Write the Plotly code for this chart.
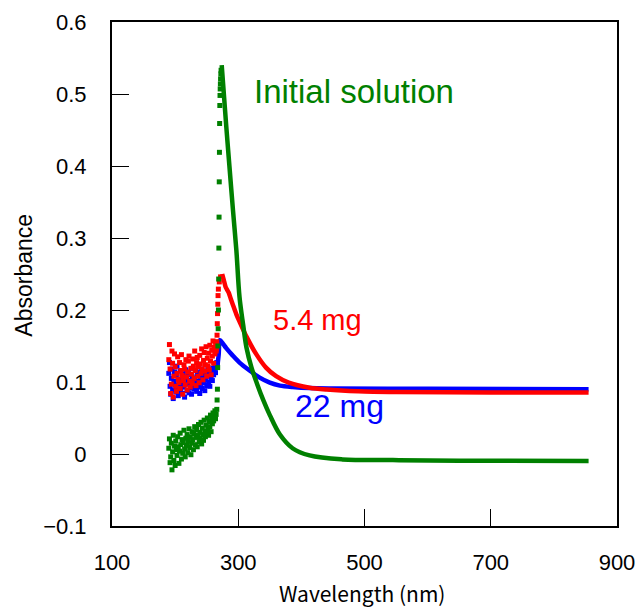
import plotly.graph_objects as go

# ---- scan grid of the noisy deep-UV region (nm) ----
noise_nm_red = [190, 191, 192, 193, 194, 195, 196, 197, 198, 199, 200, 201, 202, 203, 204, 205,
                206, 207, 208, 209, 210, 211, 212, 213, 214, 215, 216, 217, 218, 219, 220, 221,
                222, 223, 224, 225, 226, 227, 228, 229, 230, 231, 232, 233, 234, 235, 236, 237,
                238, 239, 240, 241, 242, 243, 244, 245, 246, 247, 248, 249, 250, 251, 252, 253,
                254, 255, 256, 257, 258, 259, 260, 261, 262, 263, 264, 265, 266]
noise_nm_blue = noise_nm_red + [267]
noise_nm_green = noise_nm_red[:-1]

# ---- 5.4 mg sample ----
red_noise_abs = [0.131, 0.152, 0.118, 0.084, 0.097, 0.143, 0.126, 0.079, 0.108, 0.139,
                 0.121, 0.094, 0.087, 0.112, 0.135, 0.104, 0.099, 0.127, 0.091, 0.116,
                 0.138, 0.109, 0.083, 0.102, 0.124, 0.118, 0.096, 0.131, 0.107, 0.089,
                 0.114, 0.129, 0.136, 0.101, 0.093, 0.119, 0.111, 0.098, 0.132, 0.122,
                 0.105, 0.143, 0.116, 0.095, 0.127, 0.134, 0.108, 0.121, 0.099, 0.137,
                 0.125, 0.112, 0.146, 0.118, 0.103, 0.130, 0.141, 0.115, 0.124, 0.149,
                 0.108, 0.133, 0.122, 0.140, 0.117, 0.151, 0.129, 0.110, 0.144, 0.136,
                 0.157, 0.126, 0.148, 0.139, 0.155, 0.143, 0.150]
red_rise_nm = [265.5, 266.0, 266.4, 266.8, 267.2, 267.6, 268.0, 268.5, 270.0, 272.0]
red_rise_abs = [0.146, 0.156, 0.165, 0.181, 0.195, 0.208, 0.220, 0.229, 0.239, 0.246]
red_tail_nm = [274.5, 277, 280, 283, 285, 288, 291.6, 297, 302, 313, 329, 344, 360, 380, 413,
               440, 490, 550, 700, 855]
red_tail_abs = [0.250, 0.242, 0.232, 0.227, 0.224, 0.216, 0.207, 0.194, 0.184, 0.163, 0.138, 0.120,
                0.108, 0.099, 0.092, 0.0895, 0.087, 0.086, 0.0855, 0.0855]

# ---- 22 mg sample ----
blue_noise_abs = [0.112, 0.127, 0.094, 0.083, 0.105, 0.118, 0.089, 0.077, 0.101, 0.114,
                  0.096, 0.086, 0.109, 0.122, 0.091, 0.081, 0.103, 0.095, 0.115, 0.087,
                  0.099, 0.108, 0.084, 0.111, 0.093, 0.079, 0.106, 0.117, 0.097, 0.088,
                  0.102, 0.113, 0.085, 0.098, 0.110, 0.092, 0.083, 0.107, 0.119, 0.100,
                  0.090, 0.104, 0.096, 0.116, 0.087, 0.109, 0.101, 0.093, 0.113, 0.084,
                  0.105, 0.098, 0.118, 0.091, 0.107, 0.099, 0.112, 0.088, 0.103, 0.115,
                  0.095, 0.108, 0.120, 0.100, 0.111, 0.094, 0.117, 0.106, 0.114, 0.102,
                  0.119, 0.110, 0.116, 0.124, 0.113, 0.121, 0.127, 0.123]
blue_tail_nm = [267, 269, 271, 276, 281, 291, 302, 318, 334, 350, 366, 386, 413, 450, 600, 855]
blue_tail_abs = [0.122, 0.138, 0.158, 0.153, 0.147, 0.137, 0.127, 0.116, 0.106, 0.099, 0.095, 0.093,
                 0.0915, 0.091, 0.0905, 0.090]

# ---- initial solution ----
green_noise_abs = [0.008, 0.021, -0.012, -0.004, 0.015, -0.022, 0.003, 0.026, -0.009, 0.011,
                   -0.016, 0.018, 0.006, -0.002, 0.024, 0.010, -0.013, 0.004, 0.029, 0.013,
                   -0.007, 0.020, 0.001, 0.016, 0.033, 0.007, -0.004, 0.022, 0.012, 0.027,
                   0.002, 0.018, 0.035, 0.009, 0.024, -0.001, 0.015, 0.031, 0.020, 0.006,
                   0.028, 0.038, 0.013, 0.023, 0.034, 0.010, 0.026, 0.041, 0.017, 0.030,
                   0.022, 0.044, 0.014, 0.036, 0.027, 0.019, 0.047, 0.032, 0.024, 0.040,
                   0.029, 0.050, 0.035, 0.026, 0.045, 0.038, 0.054, 0.031, 0.048, 0.042,
                   0.057, 0.046, 0.052, 0.060, 0.049, 0.055]
green_rise_nm = [266.0, 266.5, 267.0, 267.4, 267.8, 268.2, 268.6, 269.0, 269.3, 269.6, 269.9, 270.2,
                 270.5, 270.8, 271.1, 271.4, 271.7, 272.0, 272.4, 272.8]
green_rise_abs = [0.062, 0.075, 0.090, 0.120, 0.150, 0.174, 0.200, 0.243, 0.286, 0.329, 0.378, 0.419,
                  0.459, 0.484, 0.498, 0.507, 0.514, 0.521, 0.528, 0.533]
green_tail_nm = [273.8, 281, 286, 291.6, 297, 302, 308, 313, 321, 330, 340, 350, 366, 386, 413, 465,
                 545, 650, 855]
green_tail_abs = [0.540, 0.455, 0.400, 0.339, 0.283, 0.218, 0.178, 0.148, 0.120, 0.097, 0.074, 0.054,
                  0.027, 0.008, -0.002, -0.0075, -0.0085, -0.0093, -0.0098]

# ---- axis ticks ----
x_ticks = [100, 300, 500, 700, 900]
y_ticks = [-0.1, 0, 0.1, 0.2, 0.3, 0.4, 0.5, 0.6]

RED, BLUE, GREEN = "#ff0000", "#0000ff", "#008000"
SQ = dict(symbol="square", size=5, line=dict(width=0))
LW = 4.5

fig = go.Figure()

# 22 mg (drawn first, lowest layer)
fig.add_trace(go.Scatter(x=noise_nm_blue, y=blue_noise_abs, mode="markers",
                         marker=dict(color=BLUE, **SQ)))
fig.add_trace(go.Scatter(x=blue_tail_nm, y=blue_tail_abs, mode="lines",
                         line=dict(color=BLUE, width=LW, shape="spline", smoothing=0.8)))

# 5.4 mg
fig.add_trace(go.Scatter(x=noise_nm_red + red_rise_nm, y=red_noise_abs + red_rise_abs,
                         mode="markers", marker=dict(color=RED, **SQ)))
fig.add_trace(go.Scatter(x=red_tail_nm, y=red_tail_abs, mode="lines",
                         line=dict(color=RED, width=LW, shape="spline", smoothing=0.8)))

# initial solution (top layer)
fig.add_trace(go.Scatter(x=noise_nm_green + green_rise_nm, y=green_noise_abs + green_rise_abs,
                         mode="markers", marker=dict(color=GREEN, **SQ)))
fig.add_trace(go.Scatter(x=green_tail_nm, y=green_tail_abs, mode="lines",
                         line=dict(color=GREEN, width=LW, shape="spline", smoothing=1.0)))

TICKFONT = dict(family="Liberation Sans, Arial, sans-serif", size=22, color="black")

fig.update_xaxes(range=[100, 900], tickvals=x_ticks, ticktext=[str(v) for v in x_ticks],
                 ticks="inside", ticklen=17, tickwidth=1.3, tickcolor="black",
                 showline=True, linecolor="black", linewidth=2, mirror=True,
                 showgrid=False, zeroline=False, tickfont=TICKFONT, ticklabelstandoff=16,
                 ticklabeloverflow="allow", automargin=False)
fig.update_yaxes(range=[-0.1, 0.6], tickvals=y_ticks,
                 ticktext=["\u22120.1", "0", "0.1", "0.2", "0.3", "0.4", "0.5", "0.6"],
                 ticks="inside", ticklen=17, tickwidth=1.3, tickcolor="black",
                 showline=True, linecolor="black", linewidth=2, mirror=True,
                 showgrid=False, zeroline=False, tickfont=TICKFONT, ticklabelstandoff=19,
                 ticklabeloverflow="allow", automargin=False)

LABEL_FONT = "Liberation Sans, Arial, sans-serif"
annotations = [
    dict(text="Initial solution", x=483, y=0.503, xref="x", yref="y", showarrow=False,
         font=dict(family=LABEL_FONT, size=33, color=GREEN)),
    dict(text="5.4 mg", x=426, y=0.186, xref="x", yref="y", showarrow=False,
         font=dict(family=LABEL_FONT, size=29, color=RED)),
    dict(text="22 mg", x=461, y=0.066, xref="x", yref="y", showarrow=False,
         font=dict(family=LABEL_FONT, size=32, color=BLUE)),
    dict(text="Absorbance", x=-0.175, y=0.498, xref="paper", yref="paper", showarrow=False,
         xanchor="center", yanchor="middle", textangle=-90,
         font=dict(family=LABEL_FONT, size=23, color="black")),
    dict(text="Wavelength (nm)", x=0.4946, y=-0.132, xref="paper", yref="paper", showarrow=False,
         xanchor="center", yanchor="middle",
         font=dict(family="Noto Sans CJK JP, sans-serif", size=21, color="black")),
]

fig.update_layout(width=635, height=607, margin=dict(l=112, r=18, t=22, b=81),
                  paper_bgcolor="white", plot_bgcolor="white", showlegend=False,
                  annotations=annotations)

fig.write_html("out.html")
